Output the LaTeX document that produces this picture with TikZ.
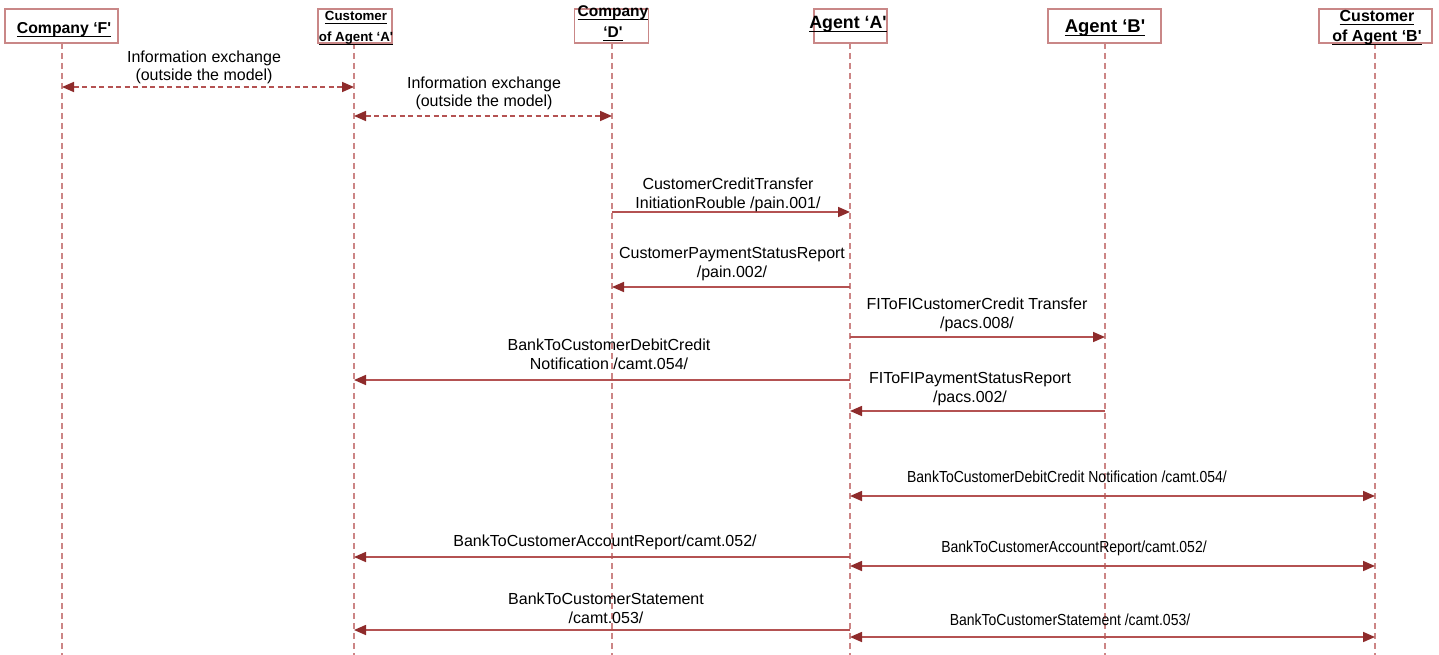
\documentclass[tikz,border=0pt]{standalone}
\usepackage{fontspec}
\usepackage{graphicx}
\setmainfont{Liberation Sans}
\usetikzlibrary{arrows.meta}
\definecolor{boxline}{HTML}{C98787}
\definecolor{lifeline}{HTML}{CC8585}
\definecolor{msgline}{HTML}{B45252}
\definecolor{msghead}{HTML}{8E2B2B}
% underlined header line with a heavy rule
\newcommand\hdrline[1]{\setbox0\hbox{#1}\rlap{\rule[-3.5pt]{\wd0}{1.7pt}}\box0}
\newcommand\sq{\textquotesingle}
% horizontally condensed label text
\newcommand\narrowtext[1]{\scalebox{0.875}[1]{#1}}
\begin{document}
\begin{tikzpicture}[x=1pt,y=-1pt,
  actor/.style={draw=boxline,line width=1.2pt,fill=white,inner sep=0pt},
  hdr/.style={font=\bfseries\fontsize{#1}{#1}\selectfont,anchor=base,inner sep=0pt},
  life/.style={draw=lifeline,line width=1.3pt,dash pattern=on 6pt off 4pt},
  msg/.style={draw=msgline,line width=1.6pt},
  info/.style={msg,dash pattern=on 5pt off 3.5pt},
  lbl/.style={font=\fontsize{16}{18.5}\selectfont,align=center,anchor=base,inner sep=0pt},
  >={Triangle[length=12pt,width=10pt,color=msghead]}
]
\fill[white] (0,0) rectangle (1439,655);
\useasboundingbox (0,0) rectangle (1439,655);

% lifelines
\coordinate (F)  at (62,43);   \coordinate (Fe)  at (62,655);
\coordinate (CA) at (354,43);  \coordinate (CAe) at (354,655);
\coordinate (D)  at (612,43);  \coordinate (De)  at (612,655);
\coordinate (A)  at (850,43);  \coordinate (Ae)  at (850,655);
\coordinate (B)  at (1105,43); \coordinate (Be)  at (1105,655);
\coordinate (CB) at (1375,43); \coordinate (CBe) at (1375,655);
\foreach \p in {F,CA,D,A,B,CB} \draw[life] (\p) -- (\p e);

% participant boxes
\node[actor,minimum width=113pt,minimum height=34pt] (boxF)  at (61.5,26) {};
\node[actor,minimum width=74pt, minimum height=34pt] (boxCA) at (355,26) {};
\node[actor,minimum width=74pt, minimum height=34pt] (boxD)  at (611.5,26) {};
\node[actor,minimum width=73pt, minimum height=34pt] (boxA)  at (850.5,26) {};
\node[actor,minimum width=113pt,minimum height=34pt] (boxB)  at (1104.5,26) {};
\node[actor,minimum width=113pt,minimum height=34pt] (boxCB) at (1375.5,26) {};

% participant names
\node[hdr=15.8] (tF)   at (64,34)   {\hdrline{Company ‘F\sq}};
\node[hdr=13.3] (tCA1) at (356,21)  {\hdrline{Customer}};
\node[hdr=13.3] (tCA2) at (356,42)  {\hdrline{of Agent ‘A\sq}};
\node[hdr=15.5] (tD1)  at (613,17)  {\hdrline{Company}};
\node[hdr=15.5] (tD2)  at (613,38)  {\hdrline{‘D\sq}};
\node[hdr=17.8] (tA)   at (848,29)  {\hdrline{Agent ‘A\sq}};
\node[hdr=18.5] (tB)   at (1105,33) {\hdrline{Agent ‘B\sq}};
\node[hdr=16]   (tCB1) at (1377,22) {\hdrline{Customer}};
\node[hdr=16]   (tCB2) at (1377,42) {\hdrline{of Agent ‘B\sq}};

% messages (label positions give the baseline of the last line)
\draw[info,<->] (F |- 0,87) -- (CA |- 0,87);
\node[lbl] (m1) at (204,81) {Information exchange\\(outside the model)};

\draw[info,<->] (CA |- 0,116) -- (D |- 0,116);
\node[lbl] (m2) at (484,107) {Information exchange\\(outside the model)};

\draw[msg,->] (D |- 0,212) -- (A |- 0,212);
\node[lbl] (m3) at (728,208) {CustomerCreditTransfer\\InitiationRouble /pain.001/};

\draw[msg,->] (A |- 0,287) -- (D |- 0,287);
\node[lbl] (m4) at (732,277) {CustomerPaymentStatusReport\\/pain.002/};

\draw[msg,->] (A |- 0,337) -- (B |- 0,337);
\node[lbl] (m5) at (977,328) {FIToFICustomerCredit Transfer\\/pacs.008/};

\draw[msg,->] (A |- 0,380) -- (CA |- 0,380);
\node[lbl] (m6) at (609,369) {BankToCustomerDebitCredit\\Notification /camt.054/};

\draw[msg,->] (B |- 0,411) -- (A |- 0,411);
\node[lbl] (m7) at (970,402) {FIToFIPaymentStatusReport\\/pacs.002/};

\draw[msg,<->] (A |- 0,496) -- (CB |- 0,496);
\node[lbl] (m8) at (1067,482) {\narrowtext{BankToCustomerDebitCredit Notification /camt.054/}};

\draw[msg,->] (A |- 0,557) -- (CA |- 0,557);
\node[lbl] (m9) at (605,546) {BankToCustomerAccountReport/camt.052/};

\draw[msg,<->] (A |- 0,566) -- (CB |- 0,566);
\node[lbl] (m10) at (1074,552) {\narrowtext{BankToCustomerAccountReport/camt.052/}};

\draw[msg,->] (A |- 0,630) -- (CA |- 0,630);
\node[lbl] (m11) at (606,623) {BankToCustomerStatement\\/camt.053/};

\draw[msg,<->] (A |- 0,637) -- (CB |- 0,637);
\node[lbl] (m12) at (1070,625) {\narrowtext{BankToCustomerStatement /camt.053/}};
\end{tikzpicture}
\end{document}
